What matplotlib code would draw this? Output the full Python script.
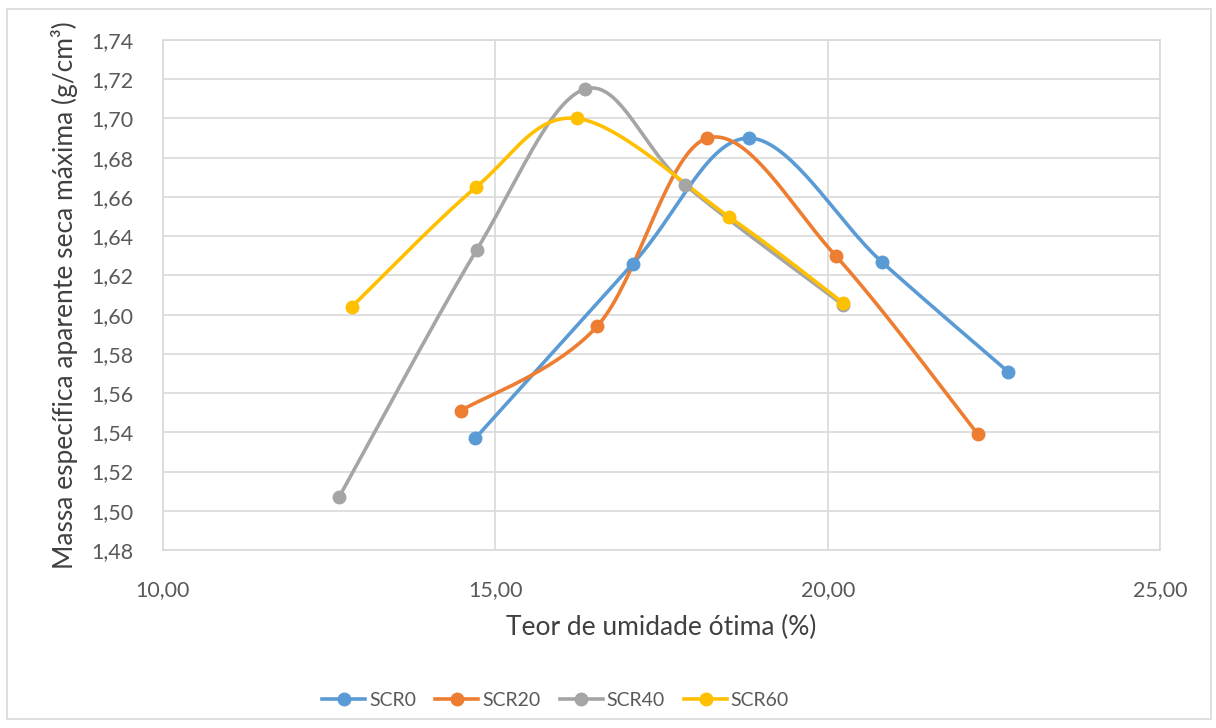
import matplotlib
matplotlib.use('Agg')
import matplotlib.pyplot as plt
import numpy as np

# teor de umidade (%) x massa especifica (g/cm3)
scr0_x = [14.70, 17.07, 18.81, 20.81, 22.71]
scr0_y = [1.537, 1.626, 1.690, 1.627, 1.571]

scr20_x = [14.48, 16.53, 18.19, 20.12, 22.26]
scr20_y = [1.551, 1.594, 1.690, 1.630, 1.539]

scr40_x = [12.65, 14.72, 16.35, 17.86, 20.23]
scr40_y = [1.507, 1.633, 1.715, 1.666, 1.605]

scr60_x = [12.84, 14.71, 16.23, 18.51, 20.23]
scr60_y = [1.604, 1.665, 1.700, 1.650, 1.606]

series_names = ['SCR0', 'SCR20', 'SCR40', 'SCR60']
colors = ['#5B9BD5', '#ED7D31', '#A5A5A5', '#FFC000']

x_ticks = [10, 15, 20, 25]
y_ticks = [1.48, 1.50, 1.52, 1.54, 1.56, 1.58, 1.60, 1.62, 1.64, 1.66, 1.68, 1.70, 1.72, 1.74]


def smooth(xs, ys, n=40):
    # spline parametrica tipo Catmull-Rom (parecida com a linha suavizada do Excel)
    p = np.column_stack([xs, ys]).astype(float)
    p = np.vstack([p[0], p, p[-1]])
    out = []
    for i in range(1, len(p) - 2):
        p0, p1, p2, p3 = p[i - 1], p[i], p[i + 1], p[i + 2]
        t = np.linspace(0, 1, n)[:, None]
        seg = 0.5 * ((2 * p1) + (-p0 + p2) * t + (2 * p0 - 5 * p1 + 4 * p2 - p3) * t ** 2
                     + (-p0 + 3 * p1 - 3 * p2 + p3) * t ** 3)
        out.append(seg)
    out = np.vstack(out)
    return out[:, 0], out[:, 1]


fig = plt.figure(figsize=(12.16, 7.28), dpi=100)
plt.rcParams['font.family'] = ['Lato', 'DejaVu Sans']

# borda do grafico
border = plt.Rectangle((0.006, 0.012), 0.99, 0.975, transform=fig.transFigure,
                       fill=False, edgecolor='#D9D9D9', linewidth=1.2)
fig.patches.append(border)

ax = fig.add_axes([0.134, 0.2445, 0.820, 0.7005])

all_x = [scr0_x, scr20_x, scr40_x, scr60_x]
all_y = [scr0_y, scr20_y, scr40_y, scr60_y]

for xs, ys, name, c in zip(all_x, all_y, series_names, colors):
    sx, sy = smooth(xs, ys)
    ax.plot(sx, sy, color=c, linewidth=2.6, solid_capstyle='round', zorder=3)
    ax.plot(xs, ys, linestyle='none', marker='o', markersize=9, color=c, zorder=4)
    ax.plot([], [], color=c, linewidth=2.6, marker='o', markersize=9, label=name)

ax.set_xlim(10, 25)
ax.set_ylim(1.48, 1.74)
ax.set_xticks(x_ticks)
ax.set_yticks(y_ticks)
ax.set_xticklabels([f'{v:.2f}'.replace('.', ',') for v in x_ticks])
ax.set_yticklabels([f'{v:.2f}'.replace('.', ',') for v in y_ticks])
ax.tick_params(axis='both', length=0, labelsize=15.5, labelcolor='#595959')
ax.tick_params(axis='y', pad=21)
ax.tick_params(axis='x', pad=22)

ax.grid(True, color='#D9D9D9', linewidth=1.2)
ax.set_axisbelow(True)
for s in ax.spines.values():
    s.set_color('#D9D9D9')
    s.set_linewidth(1.2)

ax.set_xlabel('Teor de umidade ótima (%)', fontsize=19, color='#404040', labelpad=10)
ax.set_ylabel('Massa específica aparente seca máxima (g/cm³)', fontsize=19, color='#404040', labelpad=10)

fig.legend(loc='center', bbox_to_anchor=(0.457, 0.038), ncol=4, frameon=False,
           fontsize=14, labelcolor='#595959', handlelength=2.2, handletextpad=0.2,
           columnspacing=1.0)

fig.savefig('out.png', dpi=100)
